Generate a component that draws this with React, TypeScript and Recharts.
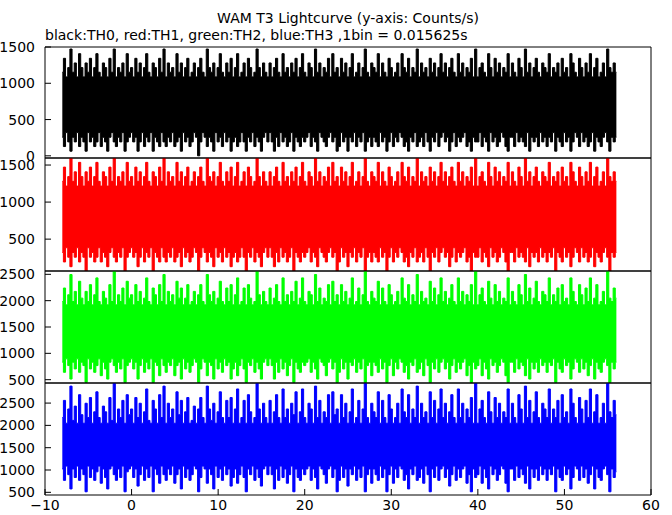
import { Area, AreaChart, ReferenceArea, XAxis, YAxis } from "recharts";

// counts per bin, 1 bin = 0.015625 s -> counts/s = counts * 64
const RATE = 64;
// envelope of each 0.25 s stretch (min / max counts per bin)
const T0 = -8;
const STEP = 0.25;

const TH0_HI = [
  18, 21, 17, 19, 23, 18, 20, 17, 22, 19, 17, 20, 18, 21, 17, 19,
  22, 18, 17, 20, 19, 17, 21, 18, 23, 17, 19, 18, 20, 17, 22, 18,
  19, 17, 21, 18, 20, 17, 19, 22, 18, 17, 20, 19, 17, 21, 18, 23,
  17, 20, 18, 19, 17, 22, 18, 20, 17, 19, 21, 17, 18, 20, 17, 19,
  21, 18, 17, 23, 19, 18, 20, 17, 19, 22, 18, 17, 20, 18, 21, 17,
  19, 22, 17, 18, 20, 17, 21, 19, 17, 18, 23, 19, 17, 20, 18, 17,
  20, 17, 19, 21, 18, 17, 22, 18, 19, 17, 20, 18, 21, 17, 19, 22,
  18, 17, 20, 19, 17, 23, 18, 20, 17, 19, 18, 21, 17, 22, 18, 19,
  17, 21, 18, 20, 17, 19, 22, 17, 18, 20, 17, 19, 23, 18, 17, 20,
  19, 18, 22, 17, 20, 18, 17, 21, 19, 17, 18, 20, 17, 22, 19, 18,
  21, 17, 19, 18, 23, 17, 20, 18, 19, 17, 21, 18, 20, 17, 19, 22,
  18, 20, 17, 19, 21, 18, 17, 22, 18, 20, 17, 19, 18, 21, 17, 23,
  17, 19, 20, 18, 17, 22, 19, 17, 21, 18, 20, 17, 19, 18, 22, 17,
  20, 18, 17, 21, 19, 17, 23, 18, 20, 17, 19, 21, 18, 17, 20, 19,
  18, 22, 17, 19, 18, 20, 17, 21, 18, 19, 17, 22, 20, 18, 17, 21,
  19, 17, 20, 18, 22, 17, 19, 21, 17, 18, 20, 17, 23, 19, 18, 20,
  18,
];
const TH0_LO = [
  4, 2, 5, 3, 1, 4, 3, 5, 2, 4, 3, 1, 5, 3, 4, 2,
  3, 5, 2, 4, 3, 1, 4, 5, 3, 2, 4, 3, 5, 1, 3, 4,
  5, 3, 4, 1, 3, 5, 2, 4, 3, 5, 1, 4, 3, 2, 5, 3,
  2, 4, 3, 5, 2, 3, 4, 1, 5, 3, 4, 2, 3, 5, 4, 0,
  3, 5, 4, 2, 4, 3, 1, 5, 3, 4, 2, 5, 3, 4, 1, 3,
  4, 2, 3, 5, 3, 1, 4, 3, 5, 2, 4, 3, 1, 4, 5, 3,
  5, 3, 1, 4, 2, 5, 3, 4, 2, 3, 5, 1, 4, 3, 2, 4,
  3, 4, 5, 2, 4, 3, 1, 5, 4, 3, 2, 4, 5, 3, 4, 1,
  2, 5, 3, 4, 1, 4, 3, 5, 2, 4, 3, 5, 1, 3, 4, 2,
  4, 3, 2, 5, 3, 4, 1, 3, 5, 2, 4, 3, 5, 4, 2, 3,
  1, 4, 3, 5, 2, 3, 4, 2, 5, 3, 1, 4, 3, 5, 2, 4,
  5, 3, 4, 1, 3, 5, 2, 4, 3, 4, 5, 2, 3, 1, 4, 3,
  3, 5, 2, 4, 3, 1, 5, 3, 4, 2, 3, 5, 4, 2, 1, 4,
  4, 2, 5, 3, 4, 3, 2, 5, 1, 4, 3, 4, 2, 5, 3, 4,
  2, 4, 3, 5, 1, 4, 3, 2, 5, 3, 4, 1, 3, 5, 4, 2,
  5, 3, 4, 2, 3, 5, 1, 4, 3, 2, 4, 5, 3, 1, 4, 3,
  4,
];

const TH1_HI = [
  20, 23, 19, 21, 25, 20, 22, 19, 24, 21, 19, 22, 20, 23, 19, 21,
  24, 20, 19, 22, 21, 19, 23, 20, 25, 19, 21, 20, 22, 19, 24, 20,
  21, 19, 23, 20, 22, 19, 21, 24, 20, 19, 22, 21, 19, 23, 20, 25,
  19, 22, 20, 21, 19, 24, 20, 22, 19, 21, 23, 19, 20, 22, 19, 21,
  23, 20, 19, 25, 21, 20, 22, 19, 21, 24, 20, 19, 22, 20, 23, 19,
  21, 24, 19, 20, 22, 19, 23, 21, 19, 20, 25, 21, 19, 22, 20, 19,
  22, 19, 21, 23, 20, 19, 24, 20, 21, 19, 22, 20, 23, 19, 21, 24,
  20, 19, 22, 21, 19, 25, 20, 22, 19, 21, 20, 23, 19, 24, 20, 21,
  19, 23, 20, 22, 19, 21, 24, 19, 20, 22, 19, 21, 25, 20, 19, 22,
  21, 20, 24, 19, 22, 20, 19, 23, 21, 19, 20, 22, 19, 24, 21, 20,
  23, 19, 21, 20, 25, 19, 22, 20, 21, 19, 23, 20, 22, 19, 21, 24,
  20, 22, 19, 21, 23, 20, 19, 24, 20, 22, 19, 21, 20, 23, 19, 25,
  19, 21, 22, 20, 19, 24, 21, 19, 23, 20, 22, 19, 21, 20, 24, 19,
  22, 20, 19, 23, 21, 19, 25, 20, 22, 19, 21, 23, 20, 19, 22, 21,
  20, 24, 19, 21, 20, 22, 19, 23, 20, 21, 19, 24, 22, 20, 19, 23,
  21, 19, 22, 20, 24, 19, 21, 23, 19, 20, 22, 19, 25, 21, 20, 22,
  20,
];
const TH1_LO = [
  5, 3, 6, 4, 2, 5, 4, 6, 3, 5, 4, 1, 6, 4, 5, 3,
  4, 6, 3, 5, 4, 2, 5, 6, 4, 3, 5, 4, 6, 1, 4, 5,
  6, 4, 5, 2, 4, 6, 3, 5, 4, 6, 1, 5, 4, 3, 6, 4,
  3, 5, 4, 6, 3, 4, 5, 2, 6, 4, 5, 3, 4, 6, 5, 1,
  4, 6, 5, 3, 5, 4, 2, 6, 4, 5, 3, 6, 4, 5, 2, 4,
  5, 3, 4, 6, 4, 1, 5, 4, 6, 3, 5, 4, 2, 5, 6, 4,
  6, 4, 2, 5, 3, 6, 4, 5, 3, 4, 6, 1, 5, 4, 3, 5,
  4, 5, 6, 3, 5, 4, 2, 6, 5, 4, 3, 5, 6, 4, 5, 1,
  3, 6, 4, 5, 2, 5, 4, 6, 3, 5, 4, 6, 1, 4, 5, 3,
  5, 4, 3, 6, 4, 5, 1, 4, 6, 3, 5, 4, 6, 5, 3, 4,
  2, 5, 4, 6, 3, 4, 5, 3, 6, 4, 1, 5, 4, 6, 3, 5,
  6, 4, 5, 2, 4, 6, 3, 5, 4, 5, 6, 3, 4, 1, 5, 4,
  4, 6, 3, 5, 4, 2, 6, 4, 5, 3, 4, 6, 5, 3, 1, 5,
  5, 3, 6, 4, 5, 4, 3, 6, 2, 5, 4, 5, 3, 6, 4, 5,
  3, 5, 4, 6, 1, 5, 4, 3, 6, 4, 5, 2, 4, 6, 5, 3,
  6, 4, 5, 3, 4, 6, 2, 5, 4, 3, 5, 6, 4, 1, 5, 4,
  5,
];

const TH2_HI = [
  31, 35, 30, 33, 39, 31, 34, 30, 37, 32, 30, 34, 31, 36, 30, 33,
  38, 31, 30, 34, 32, 30, 36, 31, 40, 30, 33, 31, 35, 30, 37, 32,
  33, 30, 36, 31, 34, 30, 32, 38, 31, 30, 35, 33, 30, 36, 31, 39,
  30, 34, 31, 33, 30, 37, 32, 35, 30, 32, 36, 30, 31, 34, 30, 33,
  36, 31, 30, 39, 33, 31, 34, 30, 32, 37, 31, 30, 35, 31, 36, 30,
  33, 38, 30, 31, 35, 30, 36, 32, 30, 31, 40, 33, 30, 34, 31, 30,
  35, 30, 32, 36, 31, 30, 38, 31, 33, 30, 34, 31, 37, 30, 32, 38,
  31, 30, 34, 33, 30, 39, 31, 35, 30, 32, 31, 36, 30, 37, 31, 33,
  30, 36, 31, 34, 30, 32, 38, 30, 31, 35, 30, 33, 40, 31, 30, 34,
  32, 31, 37, 30, 35, 31, 30, 36, 33, 30, 31, 34, 30, 38, 32, 31,
  36, 30, 33, 31, 39, 30, 34, 31, 32, 30, 37, 31, 35, 30, 33, 38,
  31, 34, 30, 32, 36, 31, 30, 38, 31, 34, 30, 33, 31, 36, 30, 40,
  30, 33, 35, 31, 30, 37, 32, 30, 36, 31, 34, 30, 32, 31, 38, 30,
  34, 31, 30, 36, 33, 30, 39, 31, 35, 30, 32, 37, 31, 30, 34, 33,
  31, 38, 30, 33, 31, 35, 30, 36, 31, 32, 30, 38, 34, 31, 30, 36,
  33, 30, 35, 31, 38, 30, 32, 36, 30, 31, 34, 30, 40, 32, 31, 35,
  32,
];
const TH2_LO = [
  13, 10, 14, 12, 8, 13, 11, 14, 10, 13, 12, 7, 14, 11, 13, 10,
  12, 14, 9, 13, 11, 8, 13, 14, 12, 10, 13, 11, 14, 7, 12, 13,
  14, 11, 13, 8, 12, 14, 10, 13, 11, 14, 7, 13, 12, 9, 14, 12,
  10, 13, 12, 14, 9, 12, 13, 8, 14, 11, 13, 10, 12, 14, 13, 7,
  11, 14, 13, 9, 13, 12, 8, 14, 11, 13, 10, 14, 12, 13, 8, 11,
  13, 9, 12, 14, 11, 7, 13, 12, 14, 10, 13, 11, 8, 13, 14, 12,
  14, 12, 8, 13, 10, 14, 11, 13, 9, 12, 14, 7, 13, 11, 10, 13,
  12, 13, 14, 10, 13, 11, 8, 14, 13, 12, 9, 13, 14, 11, 13, 7,
  10, 14, 11, 13, 8, 13, 12, 14, 10, 13, 11, 14, 7, 12, 13, 9,
  13, 12, 10, 14, 11, 13, 7, 12, 14, 9, 13, 11, 14, 13, 10, 12,
  8, 13, 12, 14, 10, 11, 13, 9, 14, 12, 7, 13, 11, 14, 10, 13,
  14, 11, 13, 8, 12, 14, 10, 13, 11, 13, 14, 9, 12, 7, 13, 11,
  12, 14, 9, 13, 11, 8, 14, 12, 13, 10, 12, 14, 13, 9, 7, 13,
  13, 10, 14, 11, 13, 12, 9, 14, 8, 13, 11, 13, 10, 14, 12, 13,
  10, 13, 12, 14, 7, 13, 11, 10, 14, 12, 13, 8, 11, 14, 13, 10,
  14, 11, 13, 9, 12, 14, 8, 13, 11, 10, 13, 14, 12, 7, 13, 11,
  13,
];

const TH3_HI = [
  34, 40, 32, 37, 45, 33, 38, 32, 42, 35, 32, 39, 34, 41, 32, 36,
  43, 34, 32, 38, 36, 32, 41, 33, 46, 32, 37, 34, 40, 32, 42, 35,
  37, 32, 41, 34, 39, 32, 36, 44, 33, 32, 40, 37, 32, 42, 34, 45,
  32, 39, 34, 37, 32, 43, 35, 40, 32, 36, 41, 32, 33, 38, 32, 37,
  41, 34, 32, 45, 37, 33, 39, 32, 36, 43, 34, 32, 40, 34, 41, 32,
  37, 44, 32, 34, 40, 32, 42, 36, 32, 34, 46, 37, 32, 39, 34, 32,
  40, 32, 36, 42, 34, 32, 44, 34, 37, 32, 39, 35, 43, 32, 36, 44,
  34, 32, 39, 37, 32, 45, 34, 40, 32, 36, 34, 42, 32, 43, 35, 37,
  32, 42, 34, 39, 32, 36, 44, 32, 34, 40, 32, 37, 46, 34, 32, 39,
  36, 34, 43, 32, 40, 34, 32, 42, 37, 32, 34, 39, 32, 44, 36, 34,
  42, 32, 37, 34, 45, 32, 39, 34, 36, 32, 43, 34, 40, 32, 37, 44,
  34, 39, 32, 36, 42, 34, 32, 44, 34, 39, 32, 37, 34, 41, 32, 46,
  32, 37, 40, 34, 32, 43, 36, 32, 41, 34, 39, 32, 36, 34, 44, 32,
  39, 34, 32, 42, 37, 32, 45, 34, 40, 32, 36, 43, 34, 32, 39, 37,
  34, 44, 32, 37, 34, 40, 32, 42, 34, 36, 32, 44, 39, 34, 32, 41,
  37, 32, 40, 34, 44, 32, 36, 42, 32, 34, 39, 32, 46, 36, 34, 40,
  35,
];
const TH3_LO = [
  16, 12, 17, 14, 9, 16, 13, 17, 12, 16, 14, 8, 17, 13, 16, 12,
  15, 17, 11, 16, 13, 9, 16, 17, 14, 12, 16, 13, 17, 8, 15, 16,
  17, 13, 16, 10, 14, 17, 12, 16, 13, 17, 8, 16, 14, 11, 17, 14,
  12, 16, 14, 17, 11, 14, 16, 9, 17, 13, 16, 12, 14, 17, 16, 8,
  13, 17, 16, 11, 16, 14, 9, 17, 13, 16, 12, 17, 14, 16, 10, 13,
  16, 11, 14, 17, 13, 8, 16, 14, 17, 12, 16, 13, 10, 16, 17, 14,
  17, 14, 9, 16, 12, 17, 13, 16, 11, 14, 17, 8, 16, 13, 12, 16,
  14, 16, 17, 12, 16, 13, 9, 17, 16, 14, 11, 16, 17, 13, 16, 8,
  12, 17, 13, 16, 10, 16, 14, 17, 12, 16, 13, 17, 8, 14, 16, 11,
  16, 14, 12, 17, 13, 16, 8, 14, 17, 11, 16, 13, 17, 16, 12, 14,
  9, 16, 14, 17, 12, 13, 16, 11, 17, 14, 8, 16, 13, 17, 12, 16,
  17, 13, 16, 10, 14, 17, 12, 16, 13, 16, 17, 11, 14, 8, 16, 13,
  14, 17, 11, 16, 13, 9, 17, 14, 16, 12, 14, 17, 16, 11, 8, 16,
  16, 12, 17, 13, 16, 14, 11, 17, 9, 16, 13, 16, 12, 17, 14, 16,
  12, 16, 14, 17, 8, 16, 13, 12, 17, 14, 16, 9, 13, 17, 16, 12,
  17, 13, 16, 11, 14, 17, 9, 16, 13, 12, 16, 17, 14, 8, 16, 13,
  15,
];

const X_TICKS = [-10, 0, 10, 20, 30, 40, 50, 60];
const Y_TICKS_TH0 = [0, 500, 1000, 1500];
const Y_TICKS_TH1 = [500, 1000, 1500];
const Y_TICKS_TH2 = [500, 1000, 1500, 2000, 2500];
const Y_TICKS_TH3 = [500, 1000, 1500, 2000, 2500];

const FONT = "'DejaVu Sans', sans-serif";
const PAD = 12;

function steps(a: number, b: number, s: number) {
  const r: number[] = [];
  for (let v = a; v <= b + 1e-9; v += s) r.push(Math.round(v * 100) / 100);
  return r;
}

const X_MINOR = steps(-10, 60, 2);

function build(lo: number[], hi: number[]) {
  const n = Math.min(lo.length, hi.length);
  const rows = [];
  for (let i = 0; i < n; i++) {
    rows.push({ t: T0 + i * STEP, range: [lo[i] * RATE, hi[i] * RATE] });
  }
  return rows;
}

const fmt = (v: number) => (v < 0 ? `\u2212${-v}` : `${v}`);

type PanelProps = {
  lo: number[];
  hi: number[];
  color: string;
  domain: [number, number];
  major: number[];
  minor: number[];
  top: number;
  height: number;
  last?: boolean;
};

function Panel({ lo, hi, color, domain, major, minor, top, height, last }: PanelProps) {
  const data = build(lo, hi);
  const xLab = last ? 22 : 0;
  const h = height + PAD * 2 + xLab;
  const tickStyle = { fontSize: 14, fill: "#000", fontFamily: FONT };
  const line = { stroke: "#000", strokeWidth: 1 };
  const xd: [number, number] = [-10, 60];
  return (
    <div style={{ position: "absolute", left: 0, top: top - PAD, width: 672, height: h }}>
      <AreaChart
        width={672}
        height={h}
        data={data}
        margin={{ top: PAD - 1, right: 20, bottom: last ? PAD : PAD - 1, left: 0 }}
      >
        <XAxis
          xAxisId="b"
          dataKey="t"
          type="number"
          domain={xd}
          allowDataOverflow
          ticks={X_TICKS}
          interval={0}
          orientation="bottom"
          height={last ? xLab : 1}
          tick={last ? tickStyle : false}
          tickFormatter={fmt}
          tickLine={line}
          tickSize={-6}
          tickMargin={11}
          axisLine={false}
        />
        <XAxis xAxisId="bm" type="number" domain={xd} allowDataOverflow ticks={X_MINOR} interval={0}
          orientation="bottom" mirror height={1} tick={false} tickSize={3} tickLine={line} axisLine={false} />
        <XAxis xAxisId="t" type="number" domain={xd} allowDataOverflow ticks={X_TICKS} interval={0}
          orientation="top" height={1} tick={false} tickSize={-6} tickLine={line} axisLine={false} />
        <XAxis xAxisId="tm" type="number" domain={xd} allowDataOverflow ticks={X_MINOR} interval={0}
          orientation="top" mirror height={1} tick={false} tickSize={3} tickLine={line} axisLine={false} />
        <YAxis
          yAxisId="l"
          type="number"
          domain={domain}
          allowDataOverflow
          ticks={major}
          interval={0}
          width={45}
          tick={tickStyle}
          tickLine={line}
          tickSize={-6}
          tickMargin={16}
          axisLine={false}
        />
        <YAxis yAxisId="lm" type="number" domain={domain} allowDataOverflow ticks={minor} interval={0}
          mirror width={1} tick={false} tickSize={3} tickLine={line} axisLine={false} />
        <YAxis yAxisId="r" type="number" domain={domain} allowDataOverflow ticks={major} interval={0}
          orientation="right" width={1} tick={false} tickSize={-6} tickLine={line} axisLine={false} />
        <YAxis yAxisId="rm" type="number" domain={domain} allowDataOverflow ticks={minor} interval={0}
          orientation="right" mirror width={1} tick={false} tickSize={3} tickLine={line} axisLine={false} />
        <Area
          xAxisId="b"
          yAxisId="l"
          dataKey="range"
          type="step"
          stroke={color}
          strokeWidth={1}
          fill={color}
          fillOpacity={1}
          dot={false}
          activeDot={false}
          isAnimationActive={false}
        />
        <ReferenceArea
          xAxisId="b"
          yAxisId="l"
          x1={xd[0]}
          x2={xd[1]}
          y1={domain[0]}
          y2={domain[1]}
          ifOverflow="visible"
          fill="none"
          stroke="#000"
          strokeWidth={1}
        />
      </AreaChart>
    </div>
  );
}

export default function App() {
  return (
    <div style={{ position: "absolute", left: 0, top: 0, width: 672, height: 515, background: "#fff", overflow: "hidden" }}>
      <div style={{ position: "absolute", left: 45, top: 10, width: 606, textAlign: "center", fontFamily: FONT, fontSize: 14, lineHeight: "16px", color: "#000" }}>
        WAM T3 Lightcurve (y-axis: Counts/s)
      </div>
      <div style={{ position: "absolute", left: 45, top: 27, fontFamily: FONT, fontSize: 14, lineHeight: "16px", color: "#000", whiteSpace: "nowrap" }}>
        black:TH0, red:TH1, green:TH2, blue:TH3 ,1bin = 0.015625s
      </div>
      <Panel lo={TH0_LO} hi={TH0_HI} color="#000000" domain={[-30, 1500]} major={Y_TICKS_TH0} minor={steps(0, 1500, 100)} top={47} height={111} />
      <Panel lo={TH1_LO} hi={TH1_HI} color="#ff0000" domain={[70, 1595]} major={Y_TICKS_TH1} minor={steps(100, 1500, 100)} top={158} height={113} />
      <Panel lo={TH2_LO} hi={TH2_HI} color="#00ff00" domain={[437, 2563]} major={Y_TICKS_TH2} minor={steps(500, 2500, 100)} top={271} height={112} />
      <Panel lo={TH3_LO} hi={TH3_HI} color="#0000ff" domain={[440, 2950]} major={Y_TICKS_TH3} minor={steps(500, 2900, 100)} top={383} height={112} last />
    </div>
  );
}
